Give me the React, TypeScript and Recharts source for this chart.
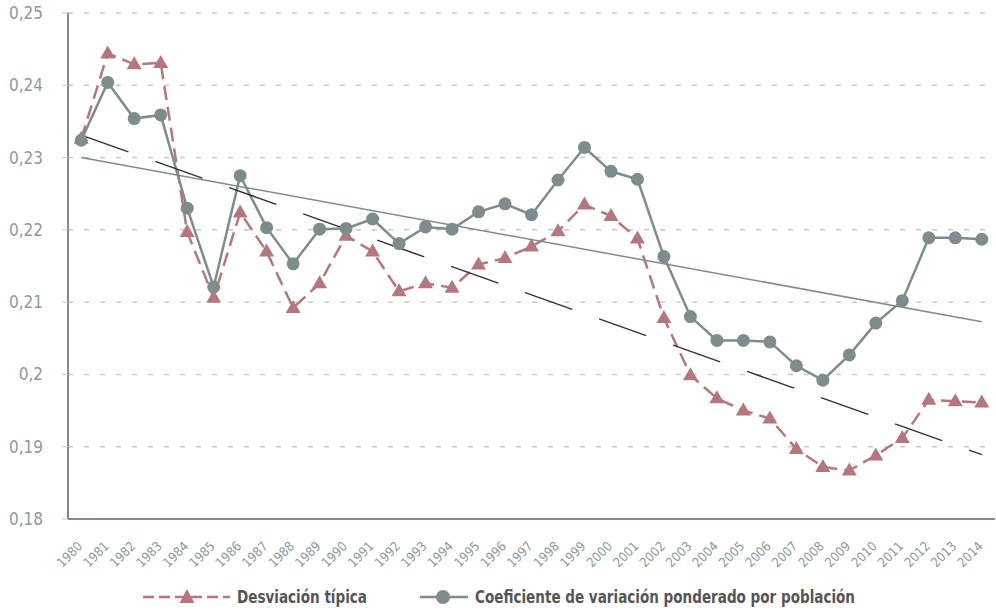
import React from 'react';
import { ComposedChart, Line, XAxis, YAxis, CartesianGrid } from 'recharts';

const years = [
  '1980', '1981', '1982', '1983', '1984', '1985', '1986', '1987', '1988', '1989',
  '1990', '1991', '1992', '1993', '1994', '1995', '1996', '1997', '1998', '1999',
  '2000', '2001', '2002', '2003', '2004', '2005', '2006', '2007', '2008', '2009',
  '2010', '2011', '2012', '2013', '2014',
];

const desviacionTipica = [
  0.2326, 0.2444, 0.2429, 0.2431, 0.2197, 0.2106, 0.2224, 0.2170, 0.2092, 0.2126,
  0.2192, 0.2170, 0.2115, 0.2126, 0.2120, 0.2152, 0.2161, 0.2177, 0.2198, 0.2235,
  0.2219, 0.2188, 0.2078, 0.1999, 0.1967, 0.1950, 0.1939, 0.1897, 0.1872, 0.1867,
  0.1888, 0.1912, 0.1965, 0.1963, 0.1961,
];

const coefVariacion = [
  0.2324, 0.2404, 0.2354, 0.2359, 0.2230, 0.2121, 0.2275, 0.2203, 0.2153, 0.2201,
  0.2202, 0.2215, 0.2181, 0.2204, 0.2201, 0.2225, 0.2236, 0.2221, 0.2269, 0.2314,
  0.2281, 0.2270, 0.2163, 0.2080, 0.2047, 0.2047, 0.2045, 0.2012, 0.1992, 0.2027,
  0.2071, 0.2102, 0.2189, 0.2189, 0.2187,
];

// Linear trend lines: values at first and last year
const tendenciaCoef = [0.2300, 0.2073];
const tendenciaDesv = [0.2331, 0.1889];

const yTicks = [0.18, 0.19, 0.2, 0.21, 0.22, 0.23, 0.24, 0.25];

const legendLabels = ['Desviación típica', 'Coeficiente de variación ponderado por población'];

const RED = '#b5777d';
const GREY = '#7f8c8d';
const LABEL = '#8c9a9b';
const FONT = "'DejaVu Sans Condensed', 'DejaVu Sans', sans-serif";

const last = years.length - 1;
const data = years.map((year, i) => ({
  year,
  desv: desviacionTipica[i],
  coef: coefVariacion[i],
  tCoef: i === 0 ? tendenciaCoef[0] : i === last ? tendenciaCoef[1] : null,
  tDesv: i === 0 ? tendenciaDesv[0] : i === last ? tendenciaDesv[1] : null,
}));

const TriangleDot = (props: any) => {
  const { cx, cy, index } = props;
  if (cx == null || cy == null) return <g key={`t${index}`} />;
  return (
    <path
      key={`t${index}`}
      d={`M${cx},${cy - 8} L${cx + 7.5},${cy + 5} L${cx - 7.5},${cy + 5} Z`}
      fill={RED}
    />
  );
};

const XTick = (props: any) => {
  const { x, y, payload } = props;
  return (
    <g transform={`translate(${x + 2},${y + 20})`}>
      <text textAnchor="end" transform="rotate(-45)" fill={LABEL} fontSize={13} fontFamily={FONT}>
        {payload.value}
      </text>
    </g>
  );
};

export default function App() {
  return (
    <div style={{ position: 'absolute', left: 0, top: 0, width: 996, height: 610, background: '#fff' }}>
      <ComposedChart
        width={996}
        height={610}
        data={data}
        margin={{ top: 13, right: 1, left: 0, bottom: 51 }}
      >
        <CartesianGrid vertical={false} stroke="#c8c8c8" strokeDasharray="5 11" strokeWidth={1.5} />
        <XAxis
          dataKey="year"
          type="category"
          scale="band"
          interval={0}
          tickLine={false}
          height={40}
          axisLine={{ stroke: GREY, strokeWidth: 2 }}
          tick={<XTick />}
        />
        <YAxis
          type="number"
          domain={[0.18, 0.25]}
          ticks={yTicks}
          width={68}
          axisLine={{ stroke: GREY, strokeWidth: 2 }}
          tickLine={{ stroke: '#c8c8c8' }}
          tickSize={6}
          tickMargin={19}
          tickFormatter={(v: number) => String(v).replace('.', ',')}
          tick={{ fill: LABEL, fontSize: 17, fontFamily: FONT }}
        />
        <Line
          dataKey="desv"
          stroke={RED}
          strokeWidth={2.5}
          strokeDasharray="14 7"
          dot={<TriangleDot />}
          activeDot={false}
          isAnimationActive={false}
        />
        <Line
          dataKey="coef"
          stroke={GREY}
          strokeWidth={2.5}
          dot={{ r: 6.5, fill: GREY, stroke: GREY, strokeWidth: 0 }}
          activeDot={false}
          isAnimationActive={false}
        />
        <Line
          dataKey="tCoef"
          stroke={GREY}
          strokeWidth={1.5}
          dot={false}
          activeDot={false}
          connectNulls
          isAnimationActive={false}
        />
        <Line
          dataKey="tDesv"
          stroke="#333333"
          strokeWidth={1.5}
          strokeDasharray="50 28.5"
          dot={false}
          activeDot={false}
          connectNulls
          isAnimationActive={false}
        />
      </ComposedChart>
      <svg width={996} height={40} style={{ position: 'absolute', left: 0, top: 577 }}>
        <line x1={143} y1={20} x2={230} y2={20} stroke={RED} strokeWidth={2.5} strokeDasharray="11 5" />
        <path d="M187,12 L194.5,26 L179.5,26 Z" fill={RED} />
        <text x={237} y={26} fill="#555" fontSize={17} fontWeight="bold" fontFamily={FONT}
          textLength={130} lengthAdjust="spacingAndGlyphs">{legendLabels[0]}</text>
        <line x1={420} y1={20} x2={468} y2={20} stroke={GREY} strokeWidth={2.5} />
        <circle cx={443} cy={20} r={7} fill={GREY} />
        <text x={475} y={26} fill="#555" fontSize={17} fontWeight="bold" fontFamily={FONT}
          textLength={380} lengthAdjust="spacingAndGlyphs">{legendLabels[1]}</text>
      </svg>
    </div>
  );
}
